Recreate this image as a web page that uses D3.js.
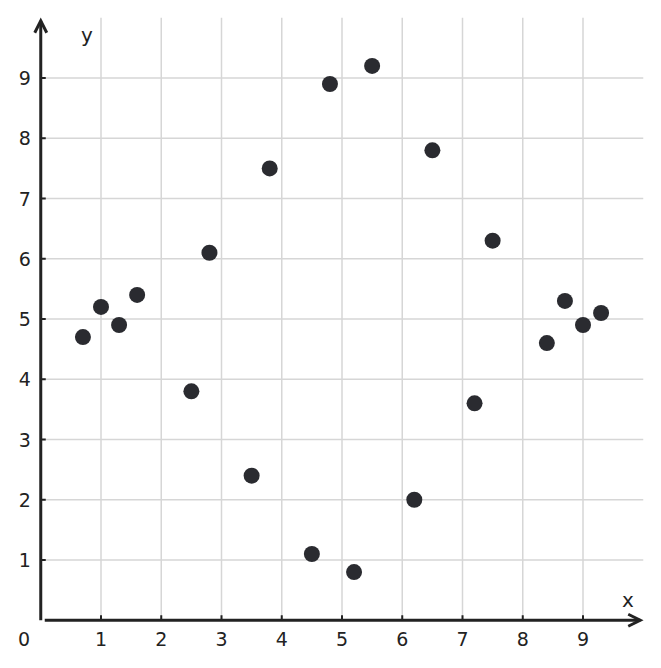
<!DOCTYPE html>
<html>
<head>
<meta charset="utf-8">
<script src="https://cdn.jsdelivr.net/npm/d3@7"></script>
<style>
  body { margin: 0; background: #fff; }
  text { font-family: "DejaVu Sans", sans-serif; fill: #222; }
</style>
</head>
<body>
<div id="chart"></div>
<script>
// data
const xs = [0.7, 1.0, 1.3, 1.6, 2.5, 2.8, 3.5, 3.8, 4.5, 4.8, 5.2, 5.5, 6.2, 6.5, 7.2, 7.5, 8.4, 8.7, 9.0, 9.3];
const ys = [4.7, 5.2, 4.9, 5.4, 3.8, 6.1, 2.4, 7.5, 1.1, 8.9, 0.8, 9.2, 2.0, 7.8, 3.6, 6.3, 4.6, 5.3, 4.9, 5.1];
const tickVals = [1, 2, 3, 4, 5, 6, 7, 8, 9];
const gridVals = [1, 2, 3, 4, 5, 6, 7, 8, 9, 10];

const width = 661, height = 668;
const ox = 40.75, oy = 620.25, unit = 60.25;

const x = d3.scaleLinear().domain([0, 10]).range([ox, ox + 10 * unit]);
const y = d3.scaleLinear().domain([0, 10]).range([oy, oy - 10 * unit]);

const svg = d3.select("#chart").append("svg")
    .attr("width", width)
    .attr("height", height);

const axisCol = "#222";

// grid
svg.append("g").selectAll("line.v")
  .data(gridVals.slice(0, 9))
  .join("line")
    .attr("x1", d => x(d)).attr("x2", d => x(d))
    .attr("y1", y(10)).attr("y2", y(0))
    .attr("stroke", "#d6d6d6").attr("stroke-width", 1.5);

svg.append("g").selectAll("line.h")
  .data(gridVals.slice(0, 9))
  .join("line")
    .attr("x1", x(0)).attr("x2", x(10))
    .attr("y1", d => y(d)).attr("y2", d => y(d))
    .attr("stroke", "#d6d6d6").attr("stroke-width", 1.5);

// axes
svg.append("line")
    .attr("x1", x(0)).attr("x2", x(0))
    .attr("y1", y(0)).attr("y2", y(9.95))
    .attr("stroke", axisCol).attr("stroke-width", 3);
svg.append("line")
    .attr("x1", x(0) + 4).attr("x2", x(9.95))
    .attr("y1", y(0)).attr("y2", y(0))
    .attr("stroke", axisCol).attr("stroke-width", 3);

// arrow heads
svg.append("path")
    .attr("d", `M${x(0) - 6},${y(9.95) + 12}L${x(0)},${y(9.95)}L${x(0) + 6},${y(9.95) + 12}`)
    .attr("fill", "none").attr("stroke", axisCol).attr("stroke-width", 3)
    .attr("stroke-linejoin", "miter");
svg.append("path")
    .attr("d", `M${x(9.95) - 12},${y(0) - 6}L${x(9.95)},${y(0)}L${x(9.95) - 12},${y(0) + 6}`)
    .attr("fill", "none").attr("stroke", axisCol).attr("stroke-width", 3)
    .attr("stroke-linejoin", "miter");

// ticks
svg.append("g").selectAll("line")
  .data(tickVals)
  .join("line")
    .attr("x1", d => x(d)).attr("x2", d => x(d))
    .attr("y1", y(0)).attr("y2", y(0) - 5)
    .attr("stroke", axisCol).attr("stroke-width", 2);
svg.append("g").selectAll("line")
  .data(tickVals)
  .join("line")
    .attr("x1", x(0)).attr("x2", x(0) + 5)
    .attr("y1", d => y(d)).attr("y2", d => y(d))
    .attr("stroke", axisCol).attr("stroke-width", 2);

// tick labels
svg.append("g").selectAll("text")
  .data(tickVals)
  .join("text")
    .attr("x", d => x(d))
    .attr("y", y(0) + 26)
    .attr("text-anchor", "middle")
    .style("font-size", "19px")
    .text(d => d);
svg.append("g").selectAll("text")
  .data(tickVals)
  .join("text")
    .attr("x", x(0) - 10)
    .attr("y", d => y(d) + 7)
    .attr("text-anchor", "end")
    .style("font-size", "19px")
    .text(d => d);

svg.append("text")
    .attr("x", 24).attr("y", y(0) + 26)
    .attr("text-anchor", "middle")
    .style("font-size", "19px")
    .text("0");
svg.append("text")
    .attr("x", 628).attr("y", 607)
    .attr("text-anchor", "middle")
    .style("font-size", "20px")
    .text("x");
svg.append("text")
    .attr("x", 87).attr("y", 42)
    .attr("text-anchor", "middle")
    .style("font-size", "20px")
    .text("y");

// points
svg.append("g").selectAll("circle")
  .data(xs.map((v, i) => [v, ys[i]]))
  .join("circle")
    .attr("cx", d => x(d[0]))
    .attr("cy", d => y(d[1]))
    .attr("r", 8)
    .attr("fill", "#2a2b30");
</script>
</body>
</html>
